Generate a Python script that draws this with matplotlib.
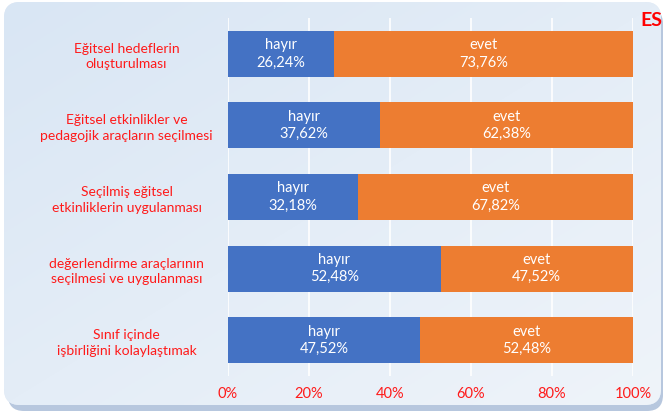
import matplotlib
matplotlib.use("Agg")
import matplotlib.pyplot as plt
import numpy as np
from matplotlib.patches import FancyBboxPatch

categories = [
    "Eğitsel hedeflerin\noluşturulması",
    "Eğitsel etkinlikler ve\npedagojik araçların seçilmesi",
    "Seçilmiş eğitsel\netkinliklerin uygulanması",
    "değerlendirme araçlarının\nseçilmesi ve uygulanması",
    "Sınıf içinde\nişbirliğini kolaylaştımak",
]
hayir = [26.24, 37.62, 32.18, 52.48, 47.52]
evet = [73.76, 62.38, 67.82, 47.52, 52.48]
tick_labels = ["0%", "20%", "40%", "60%", "80%", "100%"]
series_names = ["hayır", "evet"]

W, H = 669, 417
fig = plt.figure(figsize=(W / 100, H / 100), dpi=100)
plt.rcParams['font.family'] = ['Lato', 'DejaVu Sans']

# rounded background panel with soft shadow and gradient
bg_ax = fig.add_axes([0, 0, 1, 1])
bg_ax.set_xlim(0, W)
bg_ax.set_ylim(H, 0)
bg_ax.axis("off")
shadow = FancyBboxPatch((8, 8), W - 14, H - 14,
                        boxstyle="round,pad=0,rounding_size=16",
                        fc="#b7c7de", ec="none", zorder=0)
bg_ax.add_patch(shadow)
panel = FancyBboxPatch((4, 2), W - 12, H - 14,
                       boxstyle="round,pad=0,rounding_size=16",
                       fc="#dfe9f5", ec="none", zorder=1)
bg_ax.add_patch(panel)
g = np.outer(np.linspace(0, 1, 200), np.ones(200)) * 0.5 + np.outer(np.ones(200), np.linspace(0, 1, 200)) * 0.5
c0 = np.array([0xd9, 0xe6, 0xf4]) / 255
c1 = np.array([0xef, 0xf4, 0xfa]) / 255
img = c0[None, None, :] * (1 - g[..., None]) + c1[None, None, :] * g[..., None]
im = bg_ax.imshow(img, extent=(4, W - 8, H - 12, 2), zorder=2, aspect="auto")
im.set_clip_path(panel)

# bar chart area
x0, x1 = 228, 633
y0, y1 = 18, 376
ax = fig.add_axes([x0 / W, 1 - y1 / H, (x1 - x0) / W, (y1 - y0) / H])
ax.patch.set_alpha(0)

y = np.arange(len(categories))
height = 0.645
ax.barh(y, hayir, height=height, color="#4472C4", zorder=3)
ax.barh(y, evet, left=hayir, height=height, color="#ED7D31", zorder=3)

for i in range(len(categories)):
    ax.text(hayir[i] / 2, y[i], f"{series_names[0]}\n{hayir[i]:.2f}%".replace(".", ","),
            ha="center", va="center", color="white", fontsize=10.5, linespacing=1.3, zorder=4)
    ax.text(hayir[i] + evet[i] / 2, y[i], f"{series_names[1]}\n{evet[i]:.2f}%".replace(".", ","),
            ha="center", va="center", color="white", fontsize=10.5, linespacing=1.3, zorder=4)

ax.set_xlim(0, 100)
ax.set_ylim(len(categories) - 0.5, -0.5)
ax.set_xticks(np.arange(0, 101, 20))
ax.set_xticklabels(tick_labels, color="#ff1a1a", fontsize=10.5)
ax.set_yticks(y)
ax.set_yticklabels(categories, color="#ff1a1a", fontsize=10, ha="center", linespacing=1.35)
ax.tick_params(axis="y", length=0, pad=73)
ax.tick_params(axis="x", length=0, pad=8)
ax.grid(axis="x", color="white", linewidth=1.2, zorder=0)
for s in ax.spines.values():
    s.set_visible(False)

fig.text(651 / W, 1 - 21 / H, "ES", color="#ff0000", fontsize=14, fontweight="bold",
         ha="center", va="center")

fig.savefig("out.png", dpi=100)
